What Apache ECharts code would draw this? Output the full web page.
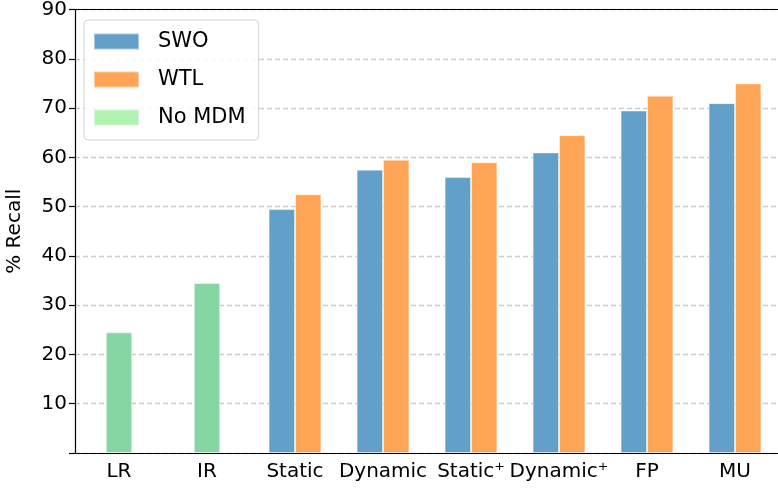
<!DOCTYPE html>
<html>
<head>
<meta charset="utf-8">
<script src="https://cdn.jsdelivr.net/npm/echarts@6/dist/echarts.min.js"></script>
<style>html,body{margin:0;padding:0;background:#fff;}#c{width:778px;height:492px;}</style>
</head>
<body>
<div id="c"></div>
<script>
const categories = ['LR', 'IR', 'Static', 'Dynamic', 'Static\u207A', 'Dynamic\u207A', 'FP', 'MU'];
const swo   = [null, null, 49.5, 57.5, 56.0, 61.0, 69.5, 71.0];
const wtl   = [null, null, 52.5, 59.5, 59.0, 64.5, 72.5, 75.0];
const noMdm = [24.5, 34.5, null, null, null, null, null, null];
const yTicks = [0, 10, 20, 30, 40, 50, 60, 70, 80, 90];

const FONT = 'DejaVu Sans';
const chart = echarts.init(document.getElementById('c'), null, {renderer: 'canvas'});
chart.setOption({
  animation: false,
  backgroundColor: '#fff',
  grid: {left: 75, right: -1, top: 9.5, bottom: 39, show: false,
    containLabel: false, outerBoundsMode: 'none'},
  legend: {
    orient: 'vertical', left: 84, top: 20,
    padding: [11, 13, 12, 9],
    itemWidth: 45, itemHeight: 16, itemGap: 17,
    icon: 'rect',
    borderColor: '#d4d4d4', borderWidth: 1, borderRadius: 4,
    backgroundColor: 'rgba(255,255,255,0.85)',
    textStyle: {fontFamily: FONT, fontSize: 21, color: '#000', padding: [0, 0, 0, 14]},
    data: [
      {name: 'SWO', itemStyle: {color: '#62a0ca'}},
      {name: 'WTL', itemStyle: {color: '#ffa556'}},
      {name: 'No MDM', itemStyle: {color: '#b1f3b1'}}
    ]
  },
  xAxis: [
    {
      type: 'category', data: categories, position: 'bottom', z: 5,
      axisLine: {lineStyle: {color: '#000', width: 1.2}},
      axisTick: {alignWithLabel: true, length: 6, lineStyle: {color: '#000', width: 1.2}},
      axisLabel: {fontFamily: FONT, fontSize: 20, color: '#000', margin: 9, interval: 0},
      splitLine: {show: false}
    },
    {
      type: 'category', data: categories, position: 'top', z: 5,
      axisLine: {show: true, lineStyle: {color: '#000', width: 1.2}},
      axisTick: {show: false}, axisLabel: {show: false}, splitLine: {show: false}
    }
  ],
  yAxis: {
    type: 'value', min: yTicks[0], max: yTicks[yTicks.length - 1], interval: 10,
    name: '% Recall', nameLocation: 'middle', nameRotate: 90, nameGap: 50,
    nameTextStyle: {fontFamily: FONT, fontSize: 20, color: '#000'},
    axisLine: {show: true, lineStyle: {color: '#000', width: 1.2}},
    axisTick: {show: true, length: 6, lineStyle: {color: '#000', width: 1.2}},
    axisLabel: {fontFamily: FONT, fontSize: 20, color: '#000', margin: 8,
      formatter: v => (v === 0 ? '' : String(v))},
    splitLine: {show: true, lineStyle: {color: '#cccccc', width: 1.3, type: [5, 3]}}
  },
  series: [
    {name: 'SWO', type: 'bar', xAxisIndex: 0, data: swo, barWidth: '30%', barGap: '0%',
      itemStyle: {color: '#62a0ca', borderColor: 'rgba(255,255,255,0.45)', borderWidth: 1}},
    {name: 'WTL', type: 'bar', xAxisIndex: 0, data: wtl, barWidth: '30%', barGap: '0%',
      itemStyle: {color: '#ffa556', borderColor: 'rgba(255,255,255,0.45)', borderWidth: 1}},
    {name: 'No MDM', type: 'bar', xAxisIndex: 1, data: noMdm, barWidth: '30%',
      itemStyle: {color: '#86d6a3', borderColor: 'rgba(255,255,255,0.45)', borderWidth: 1}}
  ]
});
</script>
</body>
</html>
